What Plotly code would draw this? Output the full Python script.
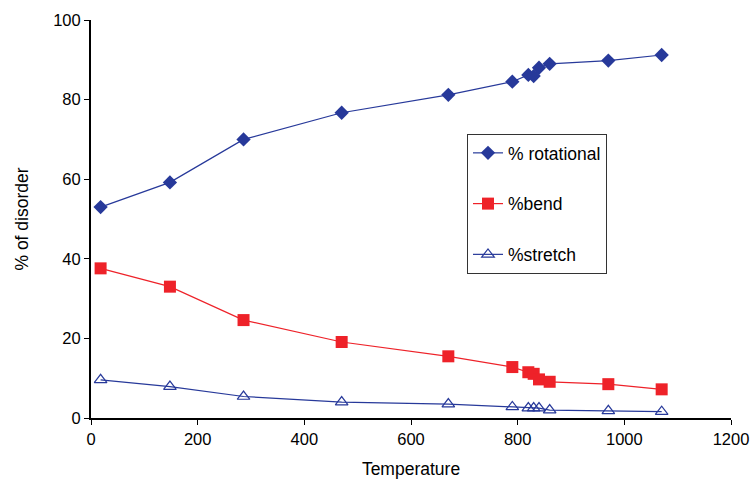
import plotly.graph_objects as go

temperature = [18, 148, 286, 470, 670, 790, 820, 830, 840, 860, 970, 1070]
rotational = [53.0, 59.2, 70.0, 76.7, 81.2, 84.5, 86.2, 85.9, 88.0, 89.0, 89.8, 91.2]
bend = [37.6, 33.0, 24.6, 19.1, 15.5, 12.8, 11.5, 11.1, 9.7, 9.1, 8.5, 7.2]
stretch = [9.6, 7.9, 5.4, 4.0, 3.5, 2.8, 2.5, 2.5, 2.5, 2.0, 1.8, 1.6]

x_ticks = [0, 200, 400, 600, 800, 1000, 1200]
y_ticks = [0, 20, 40, 60, 80, 100]

navy = "#27399A"
red = "#EE2229"
font = "Liberation Sans, Arial, sans-serif"

fig = go.Figure()
fig.add_trace(go.Scatter(
    x=temperature, y=rotational, name="% rotational", mode="lines+markers",
    legendgroup="a",
    line=dict(color=navy, width=1.2),
    marker=dict(symbol="diamond", size=11, color=navy),
))
fig.add_trace(go.Scatter(
    x=temperature, y=bend, name="%bend", mode="lines+markers",
    legendgroup="b",
    line=dict(color=red, width=1.2),
    marker=dict(symbol="square", size=12, color=red),
))
fig.add_trace(go.Scatter(
    x=temperature, y=stretch, name="%stretch", mode="lines+markers",
    legendgroup="c",
    line=dict(color=navy, width=1.2),
    marker=dict(symbol="triangle-up-open", size=11, color=navy, line=dict(width=1.2)),
))

fig.update_layout(
    width=751, height=485,
    margin=dict(l=91, r=20, t=20, b=67),
    paper_bgcolor="white", plot_bgcolor="white",
    font=dict(family=font, color="black", size=16),
    legend=dict(
        x=0.5875, y=0.7136, xanchor="left", yanchor="top",
        bordercolor="#333333", borderwidth=1, bgcolor="white",
        font=dict(size=17.5, family=font),
        traceorder="grouped", tracegroupgap=25,
    ),
    showlegend=True,
)
fig.update_xaxes(
    range=[0, 1200], tickvals=x_ticks, ticktext=[str(v) for v in x_ticks],
    showgrid=False, zeroline=False, showline=True, linecolor="black", linewidth=2,
    ticks="outside", ticklen=5, tickcolor="black", tickwidth=1,
    tickfont=dict(size=16.5), automargin=False,
    title=dict(text="Temperature", font=dict(size=17.5), standoff=16),
)
fig.update_yaxes(
    range=[0, 100], tickvals=y_ticks, ticktext=[str(v) for v in y_ticks],
    showgrid=False, zeroline=False, showline=True, linecolor="black", linewidth=2,
    ticks="outside", ticklen=5, tickcolor="black", tickwidth=1,
    tickfont=dict(size=16.5), automargin=False,
    title=dict(text="% of disorder", font=dict(size=17.5), standoff=20),
)

fig.write_html("out.html")
